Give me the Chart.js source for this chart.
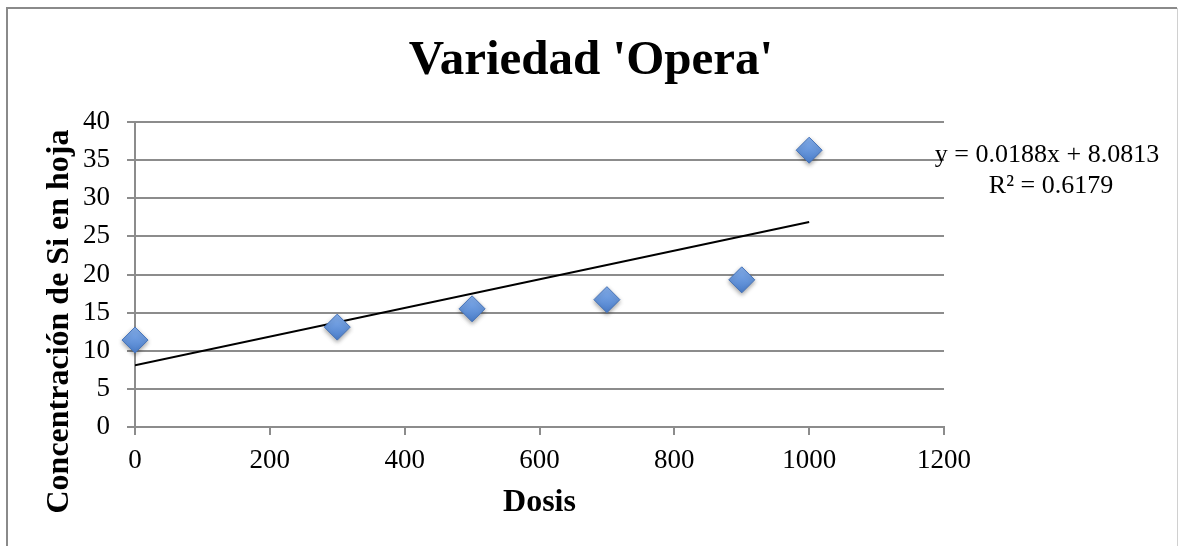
<!DOCTYPE html>
<html>
<head>
<meta charset="utf-8">
<script src="https://cdn.jsdelivr.net/npm/chart.js@4.4.1/dist/chart.umd.min.js"></script>
<style>
  html, body { margin: 0; padding: 0; background: #fff; }
  #wrap { width: 1178px; height: 546px; }
</style>
</head>
<body>
<div id="wrap"><canvas id="chart"></canvas></div>
<script>
// values
const dosis = [0, 300, 500, 700, 900, 1000];
const concentracion = [11.4, 13.1, 15.5, 16.7, 19.3, 36.3];
const xTicks = [0, 200, 400, 600, 800, 1000, 1200];
const yTicks = [0, 5, 10, 15, 20, 25, 30, 35, 40];

// linear trendline as printed on the chart
const slope = 0.0188;
const intercept = 8.0813;
const r2 = 0.6179;
const trendX = [0, 1000];

const titulo = "Variedad 'Opera'";
const tituloY = "Concentración de Si en hoja";
const tituloX = "Dosis";

const FONT = "'Liberation Serif', 'DejaVu Serif', serif";

// frame, title, y title, equation text
const extras = {
  id: "extras",
  beforeDraw(chart) {
    const ctx = chart.ctx;
    ctx.save();
    ctx.fillStyle = "#fff";
    ctx.fillRect(0, 0, chart.width, chart.height);
    ctx.strokeStyle = "#8a8a8a";
    ctx.lineWidth = 2;
    ctx.beginPath();
    ctx.moveTo(7, chart.height);
    ctx.lineTo(7, 8);
    ctx.lineTo(chart.width - 1, 8);
    ctx.stroke();
    ctx.strokeStyle = "#d0d0d0";
    ctx.lineWidth = 1;
    ctx.beginPath();
    ctx.moveTo(chart.width - 0.5, 8);
    ctx.lineTo(chart.width - 0.5, chart.height);
    ctx.stroke();
    ctx.restore();
  },
  beforeDatasetDraw(chart, args) {
    if (args.index !== 0) return;
    const ctx = chart.ctx;
    ctx.save();
    ctx.shadowColor = "rgba(0,0,0,0.35)";
    ctx.shadowBlur = 4;
    ctx.shadowOffsetY = 2;
  },
  afterDatasetDraw(chart, args) {
    if (args.index !== 0) return;
    chart.ctx.restore();
  },
  afterDraw(chart) {
    const ctx = chart.ctx;
    const area = chart.chartArea;
    ctx.save();
    ctx.fillStyle = "#000";
    ctx.textAlign = "center";
    ctx.textBaseline = "alphabetic";

    ctx.font = "bold 49px " + FONT;
    ctx.fillText(titulo, chart.width / 2 + 2, 74);

    ctx.font = "26px " + FONT;
    const cx = area.right + 103;
    ctx.fillText("y = " + slope + "x + " + intercept, cx, area.top + 40);
    ctx.fillText("R² = " + r2, cx + 4, area.top + 71);

    ctx.translate(68, (area.top + area.bottom) / 2 + 47);
    ctx.rotate(-Math.PI / 2);
    ctx.font = "bold 32px " + FONT;
    ctx.fillText(tituloY, 0, 0);
    ctx.restore();
  }
};

const grey = "#8c8c8c";

// light-to-dark blue fill for each diamond
function diamondFill(c) {
  const chart = c.chart;
  const ys = chart.scales && chart.scales.y;
  if (!c.parsed || !ys || !chart.chartArea) return "#5f92dc";
  const py = ys.getPixelForValue(c.parsed.y);
  const g = chart.ctx.createLinearGradient(0, py - 13, 0, py + 13);
  g.addColorStop(0, "#86b1ef");
  g.addColorStop(1, "#4a7dc9");
  return g;
}

new Chart(document.getElementById("chart"), {
  type: "scatter",
  data: {
    datasets: [
      {
        label: "Concentración",
        data: dosis.map((d, i) => ({ x: d, y: concentracion[i] })),
        pointStyle: "rectRot",
        pointRadius: 13,
        pointHoverRadius: 13,
        backgroundColor: diamondFill,
        borderColor: "#4673b8",
        borderWidth: 1,
        clip: false,
        order: 1
      },
      {
        label: "Lineal",
        data: trendX.map(x => ({ x, y: slope * x + intercept })),
        showLine: true,
        pointRadius: 0,
        borderColor: "#000",
        borderWidth: 2,
        order: 2
      }
    ]
  },
  options: {
    responsive: true,
    maintainAspectRatio: false,
    animation: false,
    layout: { padding: { top: 122, left: 50, right: 234, bottom: 20 } },
    plugins: {
      legend: { display: false },
      tooltip: { enabled: false },
      title: { display: false }
    },
    scales: {
      x: {
        type: "linear",
        min: 0,
        max: 1200,
        afterBuildTicks: s => { s.ticks = xTicks.map(v => ({ value: v })); },
        afterFit: s => { s.height = 99; },
        ticks: { color: "#000", font: { family: FONT, size: 27 }, padding: 10, maxRotation: 0, callback: v => String(v) },
        grid: { drawOnChartArea: false, drawTicks: true, tickLength: 8, color: grey, lineWidth: 2 },
        border: { color: grey, width: 2 },
        title: {
          display: true,
          text: tituloX,
          color: "#000",
          font: { family: FONT, size: 32, weight: "bold" },
          padding: { top: 0, bottom: 4 }
        }
      },
      y: {
        type: "linear",
        min: 0,
        max: 40,
        afterBuildTicks: s => { s.ticks = yTicks.map(v => ({ value: v })); },
        afterFit: s => { s.width = 85; },
        ticks: { color: "#000", font: { family: FONT, size: 27 }, padding: 17, callback: v => String(v) },
        grid: { color: grey, lineWidth: 2, tickLength: 8 },
        border: { color: grey, width: 2 },
        title: { display: false }
      }
    }
  },
  plugins: [extras]
});
</script>
</body>
</html>
